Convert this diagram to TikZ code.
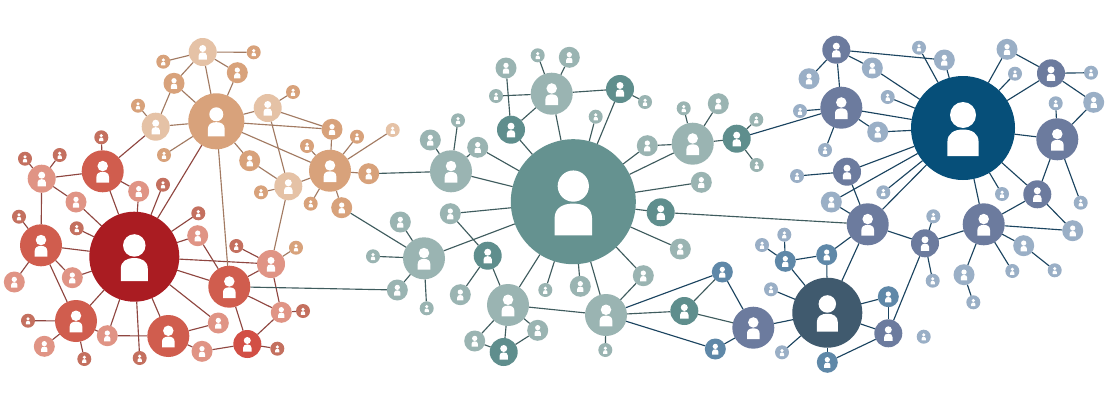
\documentclass[tikz,border=0pt]{standalone}
\usetikzlibrary{backgrounds}
\definecolor{redA}{HTML}{AA1C22}
\definecolor{redB}{HTML}{D05D4E}
\definecolor{redC}{HTML}{E09485}
\definecolor{redD}{HTML}{C4705F}
\definecolor{redE}{HTML}{D24F45}
\definecolor{oraA}{HTML}{D8A27B}
\definecolor{oraB}{HTML}{E5C2A6}
\definecolor{teaA}{HTML}{659290}
\definecolor{teaB}{HTML}{5F8E8D}
\definecolor{teaC}{HTML}{9AB4B2}
\definecolor{bluA}{HTML}{064F79}
\definecolor{bluB}{HTML}{6C7B9E}
\definecolor{bluC}{HTML}{405A6E}
\definecolor{bluD}{HTML}{5F88A8}
\definecolor{bluE}{HTML}{9AAFC6}
\definecolor{lnR}{HTML}{8F4640}
\definecolor{lnO}{HTML}{A27A62}
\definecolor{lnT}{HTML}{3F5C5E}
\definecolor{lnB}{HTML}{1B4460}
\tikzset{
  person/.style={circle,inner sep=0pt,outer sep=0pt},
  linkR/.style={draw=lnR,line width=0.85pt},
  linkO/.style={draw=lnO,line width=0.85pt},
  linkT/.style={draw=lnT,line width=0.85pt},
  linkB/.style={draw=lnB,line width=0.85pt}
}
% name, x, y, radius (all in px of the reference), colour
\newcommand\pn[5]{%
  \node[person,fill=#5,minimum size={#4*1.5pt}] (#1) at (#2,#3) {};
  \begin{scope}[shift={(#2,#3)},scale=#4]
    \fill[white] (0,-.25) circle (.25);
    \fill[white] (-.3,.54) -- (-.3,.27) .. controls (-.3,.1) and (-.17,.03) .. (0,.03)
      .. controls (.17,.03) and (.3,.1) .. (.3,.27) -- (.3,.54) -- cycle;
  \end{scope}}
\begin{document}
\begin{tikzpicture}[x=0.75pt,y=-0.75pt]
\useasboundingbox (0,0) rectangle (1110,400);
% ---- red
\pn{R0}{134.3}{256.7}{45}{redA}
\foreach \n/\x/\y in {R1/102.7/171.3,R2/41/245.3,R3/76/321,R4/168.3/336,R5/229.3/286.7}
  {\pn{\n}{\x}{\y}{21}{redB}}
\pn{R6}{247.3}{344}{14}{redE}
\foreach \n/\x/\y in {R7/41.7/178.7,R17/271/264}
  {\pn{\n}{\x}{\y}{14}{redC}}
\foreach \n/\x/\y in {R8/76/202,R9/138.7/191.3,R10/197.7/235.7,R11/72.3/277.7,R12/14.3/282,R13/44.3/346.3,R14/107.3/335.7,R15/202/351.3,R16/218.3/323,R18/281.3/312.3}
  {\pn{\n}{\x}{\y}{10.5}{redC}}
\foreach \n/\x/\y in {R19/101.3/137.3,R20/25/158.7,R21/59.7/155,R22/19/216.7,R23/76.7/228.3,R24/163/184.7,R25/198.3/213.3,R26/236.3/246,R27/303/311,R28/277.3/348.7,R29/139.7/358,R30/84.3/359,R31/28/320.7}
  {\pn{\n}{\x}{\y}{7}{redD}}
% ---- orange
\pn{O0}{216.3}{121.3}{28}{oraA}
\pn{O1}{330}{170.7}{21}{oraA}
\foreach \n/\x/\y in {O2/202.7/52,O3/155.7/126.7,O4/267.7/108,O5/288.3/186.3}
  {\pn{\n}{\x}{\y}{14}{oraB}}
\foreach \n/\x/\y in {O6/174/83.3,O7/237.3/72.7,O8/332/129.3,O9/249.7/160.7,O10/368.7/173.7,O11/341.7/207.7}
  {\pn{\n}{\x}{\y}{10.5}{oraA}}
\foreach \n/\x/\y in {O12/163.3/61.7,O13/253.7/52.3,O14/138/105.7,O15/164/155,O16/293/92,O17/307/146,O18/357/136.7,O19/261/192.3,O20/310.7/203.7,O22/296/247.7}
  {\pn{\n}{\x}{\y}{7}{oraA}}
\pn{O21}{392.7}{130}{7}{oraB}
% ---- teal
\pn{T0}{573.3}{201.7}{62.5}{teaA}
\foreach \n/\x/\y in {T1/551.7/93.7,T2/451/171.3,T3/424/258.3,T4/508/305,T5/606/315,T6/692.7/143.7}
  {\pn{\n}{\x}{\y}{21}{teaC}}
\foreach \n/\x/\y in {T7/511/129.7,T8/620/89,T9/487.7/255.7,T10/503.7/352,T11/660.7/212.3,T12/684.3/311,T13/736.7/138.7}
  {\pn{\n}{\x}{\y}{14}{teaB}}
\foreach \n/\x/\y in {T14/506/68,T15/569.3/57.3,T16/430.3/140,T17/477.7/147.3,T18/647.3/145.7,T19/450.3/213.7,T20/400.3/222,T21/397.3/290,T22/460.3/294.7,T23/474.7/341,T24/537.7/330.3,T25/580.3/286.3,T26/643.3/275.7,T27/680.3/249,T28/718.3/103.7,T29/701.3/182.3}
  {\pn{\n}{\x}{\y}{10.5}{teaC}}
\foreach \n/\x/\y in {T30/537.7/55.3,T31/496/96,T32/645/102,T33/595.7/116.7,T34/458/120.3,T35/373/256.3,T36/426.7/308.3,T37/545.3/290,T38/605.3/350,T39/683.7/108.3,T40/756.3/119.7,T41/756.7/165}
  {\pn{\n}{\x}{\y}{7}{teaC}}
% ---- blue
\pn{B0}{963}{128}{52}{bluA}
\pn{B12}{827.3}{312.7}{35}{bluC}
\foreach \n/\x/\y in {B1/841.3/107.7,B2/1057.3/139.3,B3/867.7/224.3,B4/983.7/224.3,B5/753.3/327.7}
  {\pn{\n}{\x}{\y}{21}{bluB}}
\foreach \n/\x/\y in {B6/836.3/49.7,B7/1051/73.3,B8/847/171.7,B9/1037.3/194.3,B10/925/243.3,B11/888.3/333.3}
  {\pn{\n}{\x}{\y}{14}{bluB}}
\foreach \n/\x/\y in {B13/785.3/261.3,B14/826.7/254.7,B15/722.3/272,B16/715.3/349,B17/888.3/296.7,B18/827.3/362.3}
  {\pn{\n}{\x}{\y}{10.5}{bluD}}
\foreach \n/\x/\y in {B19/809/78.7,B20/872.3/68,B21/944.3/60,B23/1007/49.3,B24/1093.7/102.3,B25/877.7/132,B26/831.3/202,B28/1072.7/230.7,B29/1023.7/245.7,B30/964/274.7}
  {\pn{\n}{\x}{\y}{10.5}{bluE}}
\foreach \n/\x/\y in {B31/919/47.7,B32/1015/73.7,B33/1091/72.7,B34/887.7/97,B35/1055.7/103.3,B36/800/111,B37/825/150,B38/797/176,B39/883.3/192.3,B40/1002/194,B41/1080.7/202.7,B42/933.3/216.3,B43/932.7/280.7,B44/1012.3/271,B45/1054.7/270.3,B46/973.3/302.3,B47/784.3/234.7,B48/762/245,B49/771/289.3,B50/782/352.3,B51/923.7/336.7}
  {\pn{\n}{\x}{\y}{7}{bluE}}
% ---- connectors
\begin{pgfonlayer}{background}
\fill[white] (0,0) rectangle (1110,400);
\foreach \a/\b in {R0/R1,R0/R9,R0/R24,R0/O0,R0/R25,R0/R10,R0/R8,R0/R23,R0/R2,R0/R11,R0/R17,R0/R5,R0/R16,R0/R4,R0/R29,R0/R14,R0/R3,R1/R19,R1/R7,R1/R9,R1/O3,R7/R20,R7/R21,R7/R8,R7/R2,R2/R22,R2/R11,R2/R12,R2/R3,R3/R31,R3/R13,R3/R30,R3/R14,R14/R4,R4/R16,R4/R15,R15/R6,R6/R28,R6/R18,R6/R5,R5/R18,R5/R17,R5/R10,R17/R26,R17/R18,R18/R27}
  {\path[linkR] (\a) -- (\b);}
\foreach \a/\b in {R5/O0,R17/O22,R17/O5,O0/O2,O0/O6,O0/O7,O0/O3,O0/O4,O0/O8,O0/O1,O0/O9,O0/O15,O3/O14,O3/O6,O6/O2,O2/O12,O2/O13,O2/O7,O4/O16,O4/O8,O4/O5,O8/O1,O1/O17,O1/O18,O1/O21,O1/O10,O1/O11,O1/O20,O1/O5,O5/O9,O5/O19}
  {\path[linkO] (\a) -- (\b);}
\foreach \a/\b in {R5/T21,O10/T2,O11/T3,T0/T1,T0/T7,T0/T33,T0/T8,T0/T18,T0/T6,T0/T29,T0/T11,T0/T27,T0/T26,T0/T5,T0/T25,T0/T37,T0/T4,T0/T3,T0/T19,T0/T2,T0/T17,T1/T30,T1/T15,T1/T8,T1/T7,T1/T31,T7/T14,T8/T32,T2/T16,T2/T34,T2/T17,T3/T20,T3/T35,T3/T21,T3/T36,T19/T9,T9/T22,T9/T4,T4/T23,T4/T10,T4/T24,T23/T10,T24/T10,T4/T5,T5/T26,T5/T38,T5/T12,T6/T18,T6/T28,T6/T39,T6/T13,T13/T40,T13/T41,T11/B3,T12/B5,T12/B15}
  {\path[linkT] (\a) -- (\b);}
\foreach \a/\b in {T5/B15,T5/B16,T13/B1,B15/B5,B16/B5,B5/B12,B0/B31,B0/B21,B0/B23,B0/B32,B0/B7,B0/B2,B0/B9,B0/B40,B0/B4,B0/B20,B0/B34,B0/B1,B0/B25,B0/B8,B0/B26,B0/B39,B0/B3,B6/B21,B6/B20,B6/B19,B6/B1,B1/B36,B1/B37,B1/B25,B8/B38,B8/B3,B26/B3,B7/B23,B7/B33,B7/B24,B24/B2,B2/B35,B2/B9,B2/B41,B9/B4,B9/B28,B4/B28,B4/B29,B4/B30,B4/B44,B4/B10,B29/B45,B30/B46,B10/B42,B10/B43,B10/B3,B10/B11,B3/B14,B3/B12,B14/B12,B14/B13,B13/B47,B13/B48,B13/B12,B12/B49,B12/B17,B12/B11,B12/B18,B12/B50,B17/B11,B18/B11}
  {\path[linkB] (\a) -- (\b);}
\end{pgfonlayer}
\end{tikzpicture}
\end{document}
